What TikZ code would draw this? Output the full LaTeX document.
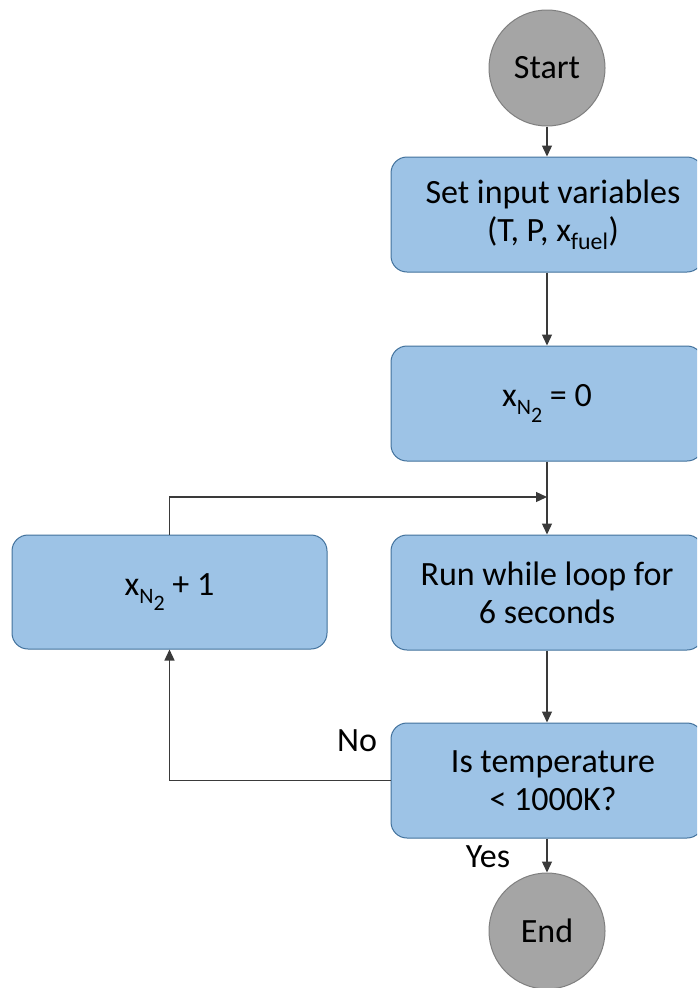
\documentclass[tikz,border=0pt]{standalone}
\usepackage{fontspec}
\setmainfont{Carlito}
\usetikzlibrary{arrows.meta}
\definecolor{boxfill}{HTML}{9DC3E6}
\definecolor{boxdraw}{HTML}{41719C}
\definecolor{circfill}{HTML}{A5A5A5}
\definecolor{circdraw}{HTML}{7F7F7F}
\definecolor{linec}{HTML}{3A3A3A}
\newcommand{\xNtwo}{x\raisebox{-8pt}{\fontsize{22}{22}\selectfont N\raisebox{-7.5pt}{2}}}
\newcommand{\sh}{\hspace*{12pt}}
\begin{document}
\begin{tikzpicture}[x=1pt,y=-1pt,
  every node/.style={font=\fontsize{34}{38}\selectfont, text=black},
  procbox/.style={draw=boxdraw, line width=1pt, fill=boxfill, rounded corners=16pt,
    minimum width=312pt, minimum height=115pt, align=center, inner sep=0pt},
  termcirc/.style={circle, draw=circdraw, line width=1pt, fill=circfill,
    minimum size=116pt, inner sep=0pt},
  conn/.style={draw=linec, line width=1.3pt, -{Triangle[length=11pt,width=10pt]}},
  lbl/.style={inner sep=0pt}]
\clip (0,0) rectangle (697,988);
\node[termcirc] (start) at (547,68) {Start};
\node[procbox] (set) at (547,214.5) {\sh Set input variables\\\sh(T, P, x\textsubscript{fuel})};
\node[procbox] (zero) at (547,403.5) {\xNtwo\ = 0};
\node[procbox] (run) at (547,592.5) {Run while loop for\\6 seconds};
\node[procbox, minimum width=315pt, minimum height=114pt] (inc) at (169.5,592) {\xNtwo\ + 1};
\node[procbox] (test) at (547,780.5) {\sh Is temperature\\\sh< 1000K?};
\node[termcirc] (end) at (547,931) {End};
\coordinate (join) at (547,497);
\node[lbl] (no) at (357,741) {No};
\node[lbl] (yes) at (488,857) {Yes};
\draw[conn] (start) -- (set);
\draw[conn] (set) -- (zero);
\draw[conn] (zero) -- (run);
\draw[conn] (run) -- (test);
\draw[conn] (test) -- (end);
\draw[conn] (inc.north) |- (join);
\draw[conn] (test.west) -| (inc.south);
\end{tikzpicture}
\end{document}
